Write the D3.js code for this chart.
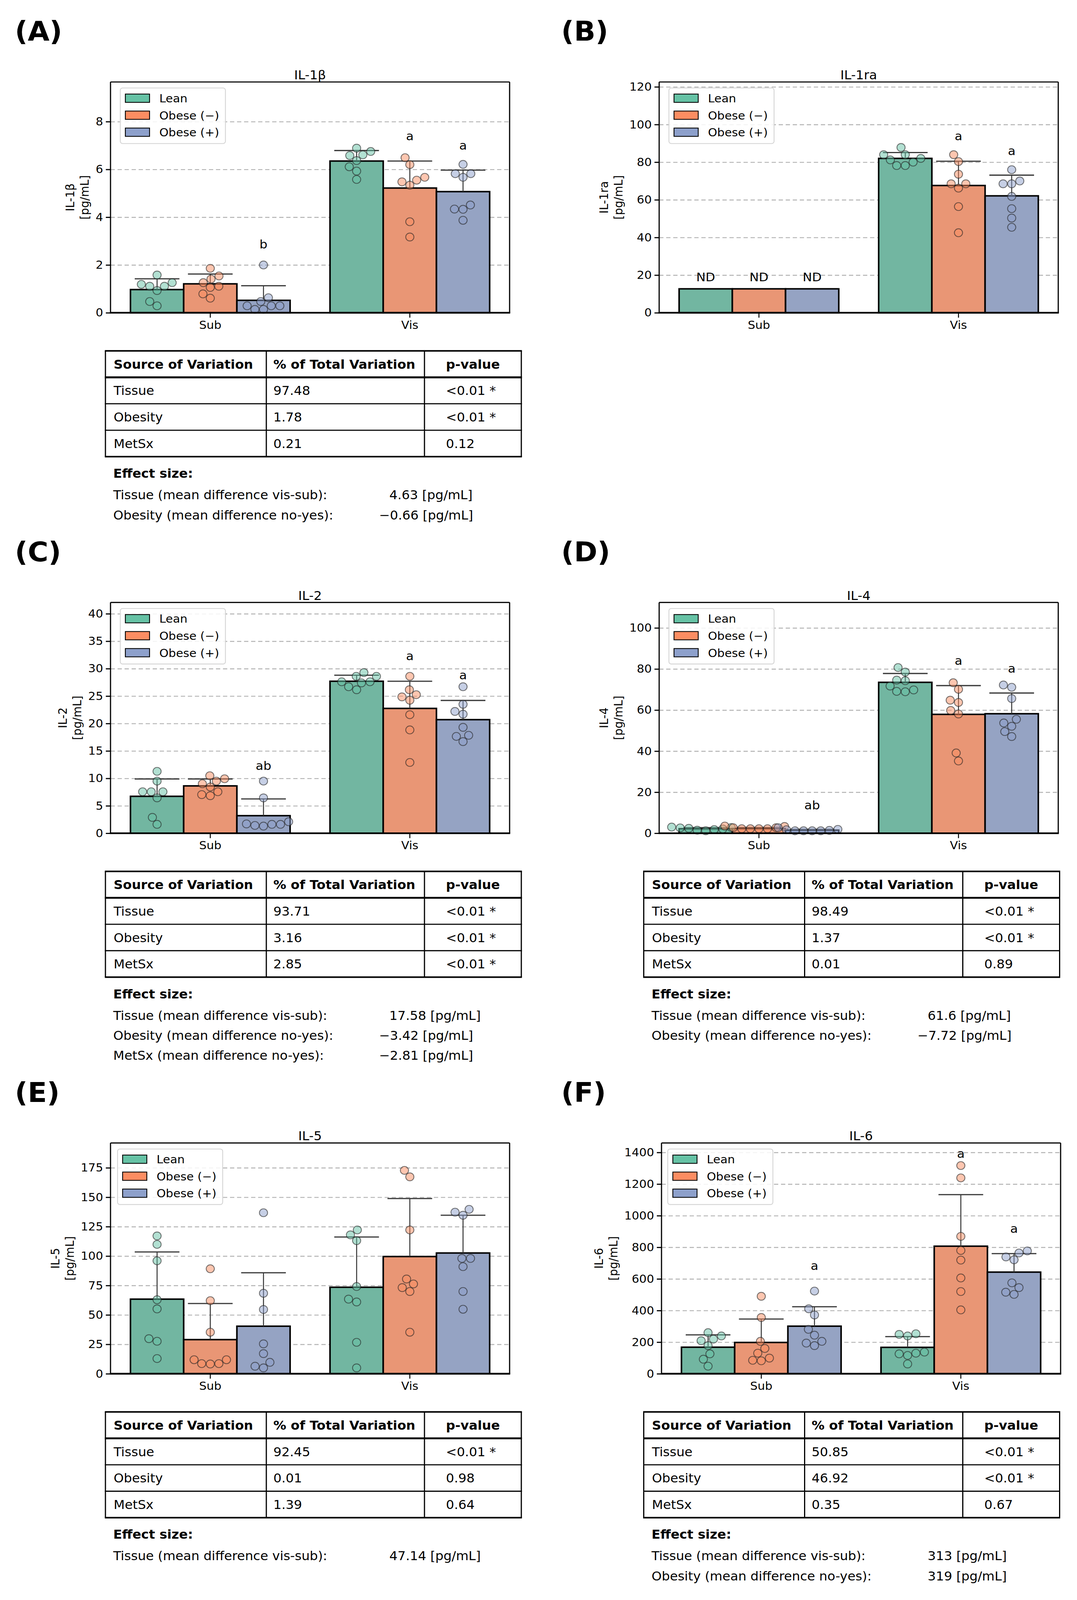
<!DOCTYPE html>
<html>
<head>
<meta charset="utf-8">
<script src="https://cdn.jsdelivr.net/npm/d3@7"></script>
<style>
  html, body { margin: 0; padding: 0; background: #fff; overflow: hidden; }
  svg { display: block; }
  text { font-family: "DejaVu Sans", sans-serif; fill: #000; }
</style>
</head>
<body>
<script>
// ---------------- DATA ----------------
const panelIds = ["A", "B", "C", "D", "E", "F"];
const cytokines = ["IL-1β", "IL-1ra", "IL-2", "IL-4", "IL-5", "IL-6"];
const tissues = ["Sub", "Vis"];
const groups = ["Lean", "Obese (−)", "Obese (+)"];
const unitLabel = "[pg/mL]";

const yMax = [9.66, 122.6, 42.06, 112.4, 196.1, 1460];
const yTicks = [
  [0, 2, 4, 6, 8],
  [0, 20, 40, 60, 80, 100, 120],
  [0, 5, 10, 15, 20, 25, 30, 35, 40],
  [0, 20, 40, 60, 80, 100],
  [0, 25, 50, 75, 100, 125, 150, 175],
  [0, 200, 400, 600, 800, 1000, 1200, 1400]
];

// bar means [panel][tissue][group]
const barMeans = [
  [[0.97, 1.21, 0.52], [6.35, 5.22, 5.07]],
  [[12.7, 12.7, 12.7], [82.0, 67.6, 62.1]],
  [[6.73, 8.63, 3.2], [27.7, 22.75, 20.7]],
  [[2.2, 2.3, 1.5], [73.5, 57.9, 58.2]],
  [[63.4, 29.0, 40.4], [73.5, 99.6, 102.6]],
  [[168, 198, 301], [167, 807, 643]]
];
// top of the error bar (mean + SD) [panel][tissue][group]
const barSdTop = [
  [[1.42, 1.62, 1.13], [6.79, 6.35, 5.97]],
  [[null, null, null], [85.1, 80.5, 73.1]],
  [[9.89, 9.89, 6.25], [28.8, 27.7, 24.2]],
  [[2.7, 2.8, 1.9], [77.8, 71.9, 68.3]],
  [[103.5, 59.7, 85.8], [116.2, 148.9, 134.7]],
  [[246, 346, 424], [235, 1133, 760]]
];

// individual samples [tissue][group][]
const pointsA = [
  [[1.58, 1.26, 1.19, 1.11, 1.11, 0.93, 0.47, 0.29],
   [1.86, 1.54, 1.41, 1.26, 1.06, 1.11, 0.79, 0.61],
   [2.0, 0.63, 0.47, 0.29, 0.29, 0.29, 0.14, 0.14]],
  [[6.89, 6.75, 6.61, 6.58, 6.37, 6.11, 5.93, 5.58],
   [6.49, 6.2, 5.67, 5.55, 5.48, 5.34, 3.81, 3.17],
   [6.21, 5.82, 5.82, 5.67, 4.34, 4.33, 4.51, 3.87]]
];
const pointsB = [
  [[], [], []],
  [[83.96, 87.8, 83.96, 81.2, 82.0, 80.0, 78.2, 78.2],
   [83.96, 80.3, 73.6, 68.5, 68.5, 66.2, 56.4, 42.5],
   [76.0, 70.0, 68.5, 68.5, 61.8, 55.3, 50.3, 45.4]]
];
const pointsC = [
  [[11.28, 9.5, 7.56, 7.56, 7.56, 6.45, 2.89, 1.62],
   [10.48, 9.93, 9.02, 9.5, 8.43, 7.04, 6.84, 7.56],
   [9.5, 6.45, 1.7, 1.42, 1.3, 1.62, 1.62, 2.1]],
  [[29.28, 28.6, 28.6, 27.6, 27.6, 27.4, 26.7, 26.15],
   [28.6, 26.15, 24.85, 25.25, 24.25, 21.6, 18.83, 12.9],
   [26.7, 23.5, 22.2, 21.7, 19.3, 17.65, 17.85, 16.7]]
];
const pointsD = [
  [[2.8, 2.6, 2.1, 1.5, 1.2, 1.8, 2.4, 3.0],
   [2.7, 2.2, 2.2, 2.2, 2.2, 2.7, 3.3, 3.5],
   [2.7, 1.9, 1.2, 1.2, 1.2, 1.2, 1.4, 1.7]],
  [[80.7, 78.5, 74.3, 74.6, 71.7, 69.1, 68.9, 69.8],
   [73.3, 70.1, 64.8, 63.7, 59.8, 58.1, 39.1, 35.2],
   [72.2, 71.1, 65.6, 55.5, 53.7, 52.1, 49.5, 47.1]]
];
const pointsE = [
  [[117.1, 109.9, 96.0, 62.9, 55.1, 29.8, 27.6, 12.9],
   [89.2, 62.1, 35.3, 11.9, 8.6, 8.3, 8.6, 11.9],
   [136.8, 68.4, 54.6, 25.4, 17.1, 9.7, 6.4, 5.0]],
  [[122.2, 118.0, 113.1, 74.1, 63.4, 61.0, 26.7, 5.0],
   [172.8, 167.3, 122.2, 80.5, 76.3, 73.2, 69.9, 35.3],
   [139.7, 137.3, 134.7, 98.0, 98.0, 91.0, 69.9, 54.8]]
];
const pointsF = [
  [[260, 239, 219, 209, 178, 126, 92, 48],
   [490, 356, 205, 160, 130, 99, 85, 82],
   [523, 411, 372, 281, 244, 205, 194, 178]],
  [[249, 239, 253, 137, 130, 126, 116, 62],
   [1317, 1239, 869, 780, 719, 606, 520, 404],
   [777, 764, 739, 721, 575, 545, 516, 502]]
];
const samplePoints = [pointsA, pointsB, pointsC, pointsD, pointsE, pointsF];

// significance letters: [tissue, group index, text, value]
const lettersA = [["Sub", 2, "b", 2.87], ["Vis", 1, "a", 7.39], ["Vis", 2, "a", 7.0]];
const lettersB = [["Sub", 0, "ND", 18.9], ["Sub", 1, "ND", 18.9], ["Sub", 2, "ND", 18.9],
                  ["Vis", 1, "a", 93.9], ["Vis", 2, "a", 86.0]];
const lettersC = [["Sub", 2, "ab", 12.27], ["Vis", 1, "a", 32.3], ["Vis", 2, "a", 28.8]];
const lettersD = [["Sub", 2, "ab", 13.7], ["Vis", 1, "a", 84.0], ["Vis", 2, "a", 80.3]];
const lettersE = [];
const lettersF = [["Sub", 2, "a", 684], ["Vis", 1, "a", 1393], ["Vis", 2, "a", 917]];
const letterSets = [lettersA, lettersB, lettersC, lettersD, lettersE, lettersF];

// ANOVA tables
const tableHeader = ["Source of Variation", "% of Total Variation", "p-value"];
const anovaSources = ["Tissue", "Obesity", "MetSx"];
const anovaPct = [
  ["97.48", "1.78", "0.21"], null,
  ["93.71", "3.16", "2.85"],
  ["98.49", "1.37", "0.01"],
  ["92.45", "0.01", "1.39"],
  ["50.85", "46.92", "0.35"]
];
const anovaP = [
  ["<0.01 *", "<0.01 *", "0.12"], null,
  ["<0.01 *", "<0.01 *", "<0.01 *"],
  ["<0.01 *", "<0.01 *", "0.89"],
  ["<0.01 *", "0.98", "0.64"],
  ["<0.01 *", "<0.01 *", "0.67"]
];
const effectTitle = "Effect size:";
const effectLabels = [
  ["Tissue (mean difference vis-sub):", "Obesity (mean difference no-yes):"],
  [],
  ["Tissue (mean difference vis-sub):", "Obesity (mean difference no-yes):", "MetSx (mean difference no-yes):"],
  ["Tissue (mean difference vis-sub):", "Obesity (mean difference no-yes):"],
  ["Tissue (mean difference vis-sub):"],
  ["Tissue (mean difference vis-sub):", "Obesity (mean difference no-yes):"]
];
const effectValues = [
  ["4.63", "−0.66"], [], ["17.58", "−3.42", "−2.81"], ["61.6", "−7.72"], ["47.14"], ["313", "319"]
];

// ---------------- STYLE / LAYOUT ----------------
const palette = ["#66c2a5", "#fc8d62", "#8da0cb"];
const barPalette = palette.map(c => { const h = d3.hsl(c); h.s *= 0.75; return h.formatHex(); });

const W = 2758, H = 4236;
const FW = 1022, FH = 611;
const frames = [
  { x: 283, y: 217 }, { x: 1688, y: 217 },
  { x: 283, y: 1595 },  { x: 1688, y: 1595 },
  { x: 283, y: 3026 }, { x: 1694, y: 3026 }
];
const labelX = [38, 1437];
const tableLeftX = [270, 1648.5];
const legendDx = [25, 25, 25, 25, 18, 16];
const colW = [412, 405, 248];
const rowH = 70;

// the svg fills the whole visible window, drawn in the reference's 2758x4236 units
const svg = d3.select("body").append("svg")
  .attr("viewBox", `0 0 ${W} ${H}`)
  .attr("preserveAspectRatio", "none")
  .style("width", "100vw").style("height", "100vh");
svg.append("rect").attr("width", W).attr("height", H).attr("fill", "#fff");

function swarm(ys, d) {
  const order = ys.map((v, i) => i).sort((a, b) => ys[b] - ys[a]);
  const placed = [];
  const xs = new Array(ys.length);
  for (const i of order) {
    const yv = ys[i];
    const neighbors = placed.filter(p => Math.abs(p.y - yv) < d);
    const lefts = [], rights = [];
    for (const n of neighbors) {
      const dx = Math.sqrt(d * d - (n.y - yv) ** 2);
      lefts.push(n.x - dx); rights.push(n.x + dx);
    }
    const cands = [0, ...lefts, ...rights].map((c, k) => ({ c, k }))
      .sort((a, b) => (Math.abs(a.c) - Math.abs(b.c)) || (a.k - b.k));
    let chosen = cands[cands.length - 1].c;
    for (const s of cands) {
      if (neighbors.every(n => (n.x - s.c) ** 2 + (n.y - yv) ** 2 >= d * d - 1e-3)) { chosen = s.c; break; }
    }
    placed.push({ x: chosen, y: yv });
    xs[i] = chosen;
  }
  return xs;
}

panelIds.forEach((pid, i) => {
  const f = frames[i];
  const col = i % 2;
  const g = svg.append("g").attr("transform", `translate(${f.x},${f.y})`);
  const y = d3.scaleLinear().domain([0, yMax[i]]).range([FH, 0]);
  const x0 = d3.scaleBand().domain(tissues).range([0, FW]);
  const x1 = d3.scaleBand().domain([0, 1, 2]).range([0.1 * x0.bandwidth(), 0.9 * x0.bandwidth()]);
  const bw = x1.bandwidth();

  // grid
  g.append("g")
    .call(d3.axisLeft(y).tickValues(yTicks[i].filter(v => v > 0)).tickSize(-FW).tickFormat(""))
    .call(s => {
      s.select(".domain").remove();
      s.selectAll("line").attr("stroke", "#b3b3b3").attr("stroke-width", 2.5).attr("stroke-dasharray", "11,7");
    });

  // bars
  tissues.forEach((t, ti) => {
    groups.forEach((gr, k) => {
      const m = barMeans[i][ti][k];
      g.append("rect")
        .attr("x", x0(t) + x1(k)).attr("y", y(m))
        .attr("width", bw).attr("height", FH - y(m))
        .attr("fill", barPalette[k]).attr("stroke", "#000").attr("stroke-width", 4);
    });
  });

  // error bars
  tissues.forEach((t, ti) => {
    groups.forEach((gr, k) => {
      const top = barSdTop[i][ti][k];
      if (top == null) return;
      const cx = x0(t) + x1(k) + bw / 2;
      g.append("line").attr("x1", cx).attr("x2", cx)
        .attr("y1", y(barMeans[i][ti][k])).attr("y2", y(top))
        .attr("stroke", "#3a3a3a").attr("stroke-width", 2.6);
      g.append("line").attr("x1", cx - bw * 0.42).attr("x2", cx + bw * 0.42)
        .attr("y1", y(top)).attr("y2", y(top))
        .attr("stroke", "#3a3a3a").attr("stroke-width", 3.2);
    });
  });

  // swarm points
  tissues.forEach((t, ti) => {
    groups.forEach((gr, k) => {
      const vals = samplePoints[i][ti][k];
      const ys = vals.map(v => y(v));
      const xs = swarm(ys, 22);
      const cx = x0(t) + x1(k) + bw / 2;
      g.append("g").selectAll("circle").data(vals).join("circle")
        .attr("cx", (v, j) => cx + xs[j]).attr("cy", (v, j) => ys[j]).attr("r", 10.5)
        .attr("fill", palette[k]).attr("fill-opacity", 0.5)
        .attr("stroke", "#222").attr("stroke-opacity", 0.6).attr("stroke-width", 2.2);
    });
  });

  // letters
  letterSets[i].forEach(([t, k, txt, v]) => {
    g.append("text").attr("x", x0(t) + x1(k) + bw / 2).attr("y", y(v) + 11)
      .attr("text-anchor", "middle").attr("font-size", 32).text(txt);
  });

  // spines
  g.append("line").attr("x1", 0).attr("x2", FW).attr("y1", 0).attr("y2", 0).attr("stroke", "#000").attr("stroke-width", 3);
  g.append("line").attr("x1", FW).attr("x2", FW).attr("y1", 0).attr("y2", FH).attr("stroke", "#000").attr("stroke-width", 3);
  g.append("line").attr("x1", 0).attr("x2", 0).attr("y1", 0).attr("y2", FH).attr("stroke", "#000").attr("stroke-width", 3);
  g.append("line").attr("x1", -1.5).attr("x2", FW + 1.5).attr("y1", FH).attr("y2", FH).attr("stroke", "#000").attr("stroke-width", 4.5);

  // axes
  const ya = g.append("g")
    .call(d3.axisLeft(y).tickValues(yTicks[i]).tickSize(12).tickPadding(7).tickFormat(d => String(d)))
    .call(s => {
      s.select(".domain").remove();
      s.selectAll("line").attr("stroke", "#000").attr("stroke-width", 3);
      s.selectAll("text").attr("font-size", 30).attr("font-family", "DejaVu Sans").attr("fill", "#000");
    });
  g.append("g").attr("transform", `translate(0,${FH})`)
    .call(d3.axisBottom(x0).tickSize(13).tickPadding(8))
    .call(s => {
      s.select(".domain").remove();
      s.selectAll("line").attr("stroke", "#000").attr("stroke-width", 2.5);
      s.selectAll("text").attr("font-size", 30).attr("font-family", "DejaVu Sans").attr("fill", "#000");
    });

  let maxW = 0;
  ya.selectAll("text").each(function () { maxW = Math.max(maxW, this.getComputedTextLength()); });
  const tickLeft = -12 - 7 - maxW;
  const l2 = tickLeft - 28, l1 = l2 - 37;
  [[l1, cytokines[i]], [l2, unitLabel]].forEach(([lx, txt]) => {
    g.append("text")
      .attr("transform", `translate(${lx},${FH / 2}) rotate(-90)`)
      .attr("text-anchor", "middle").attr("dominant-baseline", "central")
      .attr("font-size", 30).text(txt);
  });

  // title
  g.append("text").attr("x", FW / 2).attr("y", -7).attr("text-anchor", "middle")
    .attr("font-size", 33).text(cytokines[i]);

  // legend
  const lg = g.append("g").attr("transform", `translate(${legendDx[i]},16)`);
  const lbox = lg.append("rect").attr("rx", 6).attr("ry", 6)
    .attr("fill", "#fff").attr("fill-opacity", 0.85)
    .attr("stroke", "#d4d4d4").attr("stroke-width", 2.2);
  let tw = 0;
  groups.forEach((gr, k) => {
    const cy = 27 + k * 45;
    lg.append("rect").attr("x", 13).attr("y", cy - 11).attr("width", 62).attr("height", 22)
      .attr("fill", palette[k]).attr("stroke", "#000").attr("stroke-width", 2.2);
    const tt = lg.append("text").attr("x", 100).attr("y", cy + 11).attr("font-size", 30).text(gr);
    tw = Math.max(tw, tt.node().getComputedTextLength());
  });
  lbox.attr("width", 100 + tw + 16).attr("height", 147);

  // panel label
  svg.append("text").attr("x", labelX[col]).attr("y", f.y - 109)
    .attr("font-size", 72).attr("font-weight", "bold").text(`(${pid})`);

  // table
  if (anovaPct[i]) {
    const tl = tableLeftX[col];
    const tt = f.y + FH + 101;
    const tg = svg.append("g");
    const colX = [tl, tl + colW[0], tl + colW[0] + colW[1], tl + colW[0] + colW[1] + colW[2]];
    const tb = tt + 4 * rowH;
    // header
    tg.append("text").attr("x", colX[0] + 21).attr("y", tt + rowH / 2 + 12)
      .attr("font-size", 33).attr("font-weight", "bold").text(tableHeader[0]);
    tg.append("text").attr("x", colX[1] + 18).attr("y", tt + rowH / 2 + 12)
      .attr("font-size", 33).attr("font-weight", "bold").text(tableHeader[1]);
    tg.append("text").attr("x", (colX[2] + colX[3]) / 2).attr("y", tt + rowH / 2 + 12)
      .attr("text-anchor", "middle").attr("font-size", 33).attr("font-weight", "bold").text(tableHeader[2]);
    anovaSources.forEach((src, r) => {
      const by = tt + (r + 1) * rowH + rowH / 2 + 12;
      tg.append("text").attr("x", colX[0] + 21).attr("y", by).attr("font-size", 33).text(src);
      tg.append("text").attr("x", colX[1] + 18).attr("y", by).attr("font-size", 33).text(anovaPct[i][r]);
      tg.append("text").attr("x", colX[2] + 55).attr("y", by).attr("font-size", 33).text(anovaP[i][r]);
    });
    // lines
    for (let r = 0; r <= 4; r++) {
      const ly = tt + r * rowH;
      const sw = (r === 0 || r === 4) ? 4 : (r === 1 ? 5 : 3);
      tg.append("line").attr("x1", colX[0] - 1.5).attr("x2", colX[3] + 1.5).attr("y1", ly).attr("y2", ly)
        .attr("stroke", "#000").attr("stroke-width", sw);
    }
    colX.forEach(cx => {
      tg.append("line").attr("x1", cx).attr("x2", cx).attr("y1", tt).attr("y2", tb)
        .attr("stroke", "#000").attr("stroke-width", 3);
    });
    // effect size
    tg.append("text").attr("x", colX[0] + 20).attr("y", tb + 56)
      .attr("font-size", 33).attr("font-weight", "bold").text(effectTitle);
    effectLabels[i].forEach((lab, r) => {
      const by = tb + 56 + 57 + r * 53;
      tg.append("text").attr("x", colX[0] + 20).attr("y", by).attr("font-size", 33).text(lab);
      const v = effectValues[i][r];
      const vx = colX[0] + (v.startsWith("−") ? 701 : 727);
      tg.append("text").attr("x", vx).attr("y", by).attr("font-size", 33).text(`${v} ${unitLabel}`);
    });
  }
});
</script>
</body>
</html>
